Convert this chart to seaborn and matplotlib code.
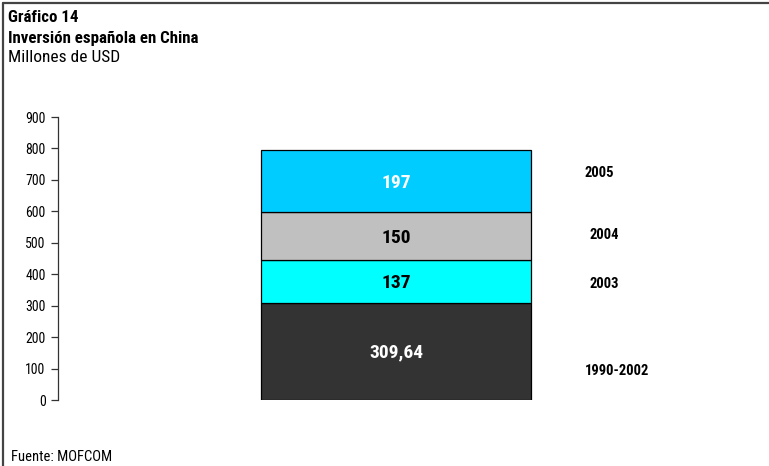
import matplotlib
matplotlib.use("Agg")
import matplotlib.pyplot as plt
import seaborn as sns
import pandas as pd
from matplotlib.lines import Line2D

# Spanish investment in China, cumulative stack (million USD)
periods = ["1990-2002", "2003", "2004", "2005"]
values = [309.64, 137, 150, 197]
colors = ["#333333", "#00FFFF", "#C0C0C0", "#00CCFF"]
label_colors = ["white", "black", "black", "white"]
yticks = [0, 100, 200, 300, 400, 500, 600, 700, 800, 900]

# positions of the period names to the right of the bar (data coords)
period_x = [0.819, 0.770, 0.770, 0.752]
period_y = [92, 369, 525, 722]

sns.set_theme(style="white")
plt.rcParams["font.family"] = ["Roboto Condensed", "Liberation Sans Narrow", "Liberation Sans", "DejaVu Sans"]
plt.rcParams["text.color"] = "black"
plt.rcParams["ytick.color"] = "black"

fig = plt.figure(figsize=(7.69, 4.66), dpi=100)
ax = fig.add_axes([58 / 769, 1 - 400 / 466, (760 - 58) / 769, (400 - 117) / 466])

df = pd.DataFrame({"grupo": ["Total"] * len(values), "valor": values, "periodo": periods})

bottom = 0.0
for i, (p, v) in enumerate(zip(periods, values)):
    sub = df[df["periodo"] == p]
    sns.barplot(data=sub, x="grupo", y="valor", bottom=bottom, color=colors[i],
                saturation=1, width=1.0, edgecolor="black", linewidth=0.9,
                ax=ax, errorbar=None)
    txt = f"{v:g}".replace(".", ",")
    ax.text(0, bottom + v / 2 - 5, txt, ha="center", va="center", fontsize=14,
            fontweight="bold", color=label_colors[i])
    ax.text(period_x[i], period_y[i], p, ha="center", va="center", fontsize=10.5,
            fontweight="bold", color="black")
    bottom += v

ax.set_xlim(-1.2519, 1.348)
ax.set_ylim(0, 900)
ax.set_yticks(yticks)
ax.set_yticklabels([str(t) for t in yticks], fontsize=10)
ax.set_xticks([])
ax.set_xlabel("")
ax.set_ylabel("")
for s in ["top", "right", "bottom"]:
    ax.spines[s].set_visible(False)
ax.spines["left"].set_color("#333333")
ax.spines["left"].set_linewidth(0.9)
ax.tick_params(axis="y", left=True, length=5, width=0.9, color="#333333", pad=4,
               labelcolor="black")

fig.text(8 / 769, 1 - 17 / 466, "Gráfico 14", fontsize=12.2, fontweight="bold", va="center")
fig.text(8 / 769, 1 - 38 / 466, "Inversión española en China", fontsize=12.2,
         fontweight="bold", va="center")
fig.text(8 / 769, 1 - 58 / 466, "Millones de USD", fontsize=12.5, va="center")
fig.text(11 / 769, 1 - 457 / 466, "Fuente: MOFCOM", fontsize=10.5, va="center")

# frame lines along the top and left edges
fig.add_artist(Line2D([3 / 769, 3 / 769], [0, 1 - 3 / 466], transform=fig.transFigure,
                      color="#444444", linewidth=1.6))
fig.add_artist(Line2D([3 / 769, 1], [1 - 3 / 466, 1 - 3 / 466], transform=fig.transFigure,
                      color="#444444", linewidth=1.6))

fig.savefig("out.png", dpi=100)
